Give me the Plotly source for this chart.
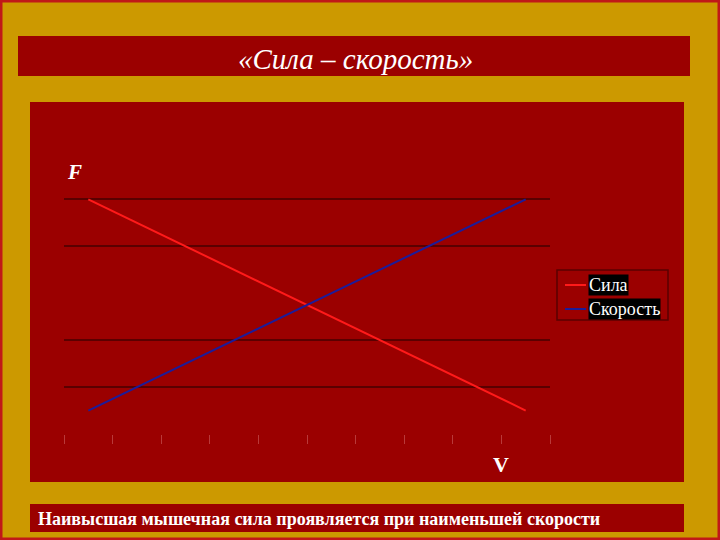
import plotly.graph_objects as go

# data
categories = ["1", "2", "3", "4", "5", "6", "7", "8", "9", "10"]
sila = [10, 9, 8, 7, 6, 5, 4, 3, 2, 1]
skorost = [1, 2, 3, 4, 5, 6, 7, 8, 9, 10]
grid_vals = [2, 4, 8, 10]
series_names = ["Сила", "Скорость"]

GOLD = "#CC9900"
DARK_RED = "#9B0000"
W, H = 720, 540
# plot area in pixels
L, R, T, B = 64, 550, 197, 434


# pixel -> paper coordinates
def px(x):
    return (x - L) / (R - L)


def py(y):
    return (B - y) / (B - T)


fig = go.Figure()
fig.add_trace(go.Scatter(x=categories, y=sila, name=series_names[0], mode="lines",
                         line=dict(color="#FF1A1A", width=2)))
fig.add_trace(go.Scatter(x=categories, y=skorost, name=series_names[1], mode="lines",
                         line=dict(color="#1C1C9A", width=2)))

shapes = []
# outer border
shapes.append(dict(type="rect", xref="paper", yref="paper", x0=px(1), x1=px(719), y0=py(1), y1=py(539),
                   line=dict(color="#C01818", width=3), fillcolor=GOLD, layer="below"))
# title box, chart box, footer box
for x0, y0, x1, y1 in [(18, 36, 690, 76), (30, 102, 684, 482), (30, 504, 684, 532)]:
    shapes.append(dict(type="rect", xref="paper", yref="paper", x0=px(x0), x1=px(x1), y0=py(y0), y1=py(y1),
                       line=dict(width=0), fillcolor=DARK_RED, layer="below"))
# legend box and samples
shapes.append(dict(type="rect", xref="paper", yref="paper", x0=px(557), x1=px(668), y0=py(270), y1=py(320),
                   line=dict(color="#5A0000", width=1.5), fillcolor=DARK_RED))
shapes.append(dict(type="line", xref="paper", yref="paper", x0=px(565), x1=px(586), y0=py(285), y1=py(285),
                   line=dict(color="#FF1A1A", width=2)))
shapes.append(dict(type="line", xref="paper", yref="paper", x0=px(565), x1=px(586), y0=py(309), y1=py(309),
                   line=dict(color="#1C1C9A", width=2)))

serif = "Liberation Serif"
annotations = [
    dict(text="«Сила – скорость»", x=px(355), y=py(59), font=dict(family=serif, size=29, color="white", style="italic")),
    dict(text="<b><i>F</i></b>", x=px(74), y=py(172), font=dict(family=serif, size=21, color="white")),
    dict(text="<b>V</b>", x=px(501), y=py(464), font=dict(family=serif, size=22, color="white")),
    dict(text="<b>Наивысшая мышечная сила проявляется при наименьшей скорости</b>", x=px(36), y=py(519),
         xanchor="left", font=dict(family=serif, size=18, color="white")),
    dict(text=series_names[0], x=px(588), y=py(285), xanchor="left", bgcolor="black", borderpad=0,
         font=dict(family=serif, size=18, color="white")),
    dict(text=series_names[1], x=px(588), y=py(309), xanchor="left", bgcolor="black", borderpad=0,
         font=dict(family=serif, size=18, color="white")),
]
for a in annotations:
    a.update(xref="paper", yref="paper", showarrow=False)
    a.setdefault("xanchor", "center")
    a.setdefault("yanchor", "middle")

fig.update_layout(
    width=W, height=H, autosize=False,
    margin=dict(l=L, r=W - R, t=T, b=H - B, pad=0),
    paper_bgcolor=GOLD, plot_bgcolor=DARK_RED,
    showlegend=False,
    shapes=shapes, annotations=annotations,
    xaxis=dict(type="category", range=[-0.5, 9.5], tickson="boundaries", ticks="outside", ticklen=9,
               tickcolor="rgba(255,190,190,0.3)", showticklabels=False, showgrid=False,
               zeroline=False, showline=False),
    yaxis=dict(range=[0, 10.1], tickvals=grid_vals, showticklabels=False, showgrid=True,
               gridcolor="#5A0000", gridwidth=1.5, zeroline=False, showline=False, ticks=""),
)

# drop the default page margin so the figure sits at the window corner
fig.write_html("out.html", config={"displayModeBar": False},
               post_script="document.body.style.margin='0';")
